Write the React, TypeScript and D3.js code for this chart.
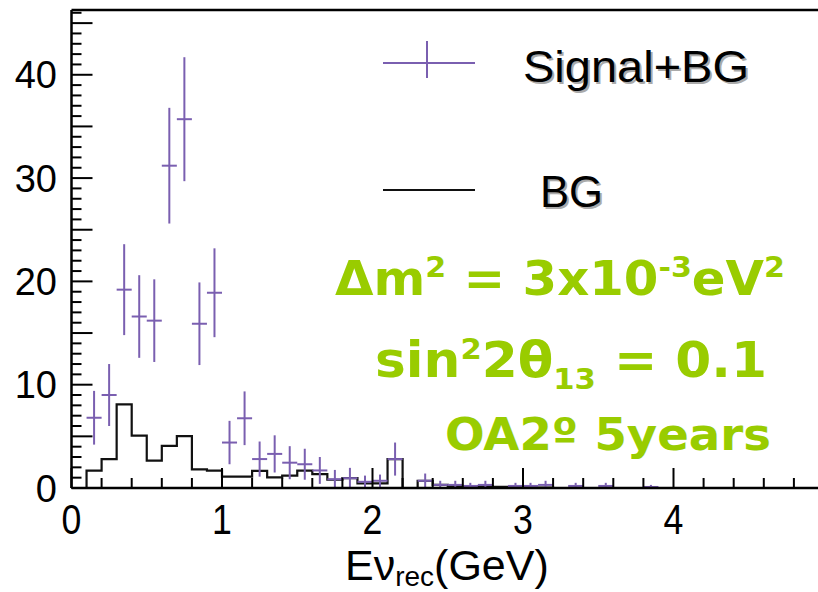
import React from 'react';
import * as d3 from 'd3';

// 0.1 GeV bins from 0 to 5 GeV
const binWidth = 0.1;
const signalBG = [
  0, 6.8, 9.0, 19.2, 16.6, 16.2, 31.2, 35.7, 15.9, 18.9,
  4.4, 6.75, 2.8, 3.3, 2.45, 2.3, 1.7, 0.85, 0.95, 0.6,
  0.7, 2.8, 0, 0.7, 0.3, 0.3, 0.2, 0.3, 0, 0.2,
  0.2, 0.3, 0, 0.2, 0, 0.2, 0, 0, 0.1, 0,
  0, 0, 0, 0, 0, 0, 0, 0, 0, 0,
];
const signalErr = [
  0, 2.6, 3.0, 4.4, 4.0, 4.0, 5.6, 6.0, 4.0, 4.3,
  2.1, 2.6, 1.7, 1.8, 1.6, 1.5, 1.3, 0.9, 1.0, 0.6,
  0.6, 1.6, 0, 0.7, 0.4, 0.4, 0.3, 0.4, 0, 0.3,
  0.3, 0.4, 0, 0.3, 0, 0.3, 0, 0, 0.2, 0,
  0, 0, 0, 0, 0, 0, 0, 0, 0, 0,
];
const background = [
  0, 1.68, 2.8, 8.1, 5.07, 2.65, 4.07, 5.03, 1.8, 1.68,
  1.1, 1.1, 1.65, 1.03, 1.2, 1.68, 1.35, 0.8, 0.95, 0.45,
  0.45, 2.8, 0, 0.7, 0.3, 0.2, 0.15, 0.15, 0.1, 0.1,
  0.05, 0.05, 0, 0, 0, 0, 0, 0, 0, 0,
  0, 0, 0, 0, 0, 0, 0, 0, 0, 0,
];
const xTickLabels = [0, 1, 2, 3, 4];
const yTickLabels = [0, 10, 20, 30, 40];
const legendItems = ['Signal+BG', 'BG'];

const W = 818;
const H = 592;
const purple = '#7a5fb0';
const green = '#99cc00';

export default function App() {
  const x = d3.scaleLinear().domain([0, 5]).range([71.5, 824]);
  const y = d3.scaleLinear().domain([0, 46.27]).range([488, 10]);

  const bgPts: [number, number][] = background.map((v, i) => [i * binWidth, v]);
  bgPts.push([background.length * binWidth, background[background.length - 1]]);
  const step = d3
    .line<[number, number]>()
    .x(d => x(d[0]))
    .y(d => y(d[1]))
    .curve(d3.curveStepAfter);

  const yTicks = d3.range(0, 47, 1);
  const xTicks = d3.range(0, 26, 1).map(k => k * 0.2);

  const left = x(0);
  const bottom = y(0);

  return (
    <svg width={W} height={H} style={{ position: 'absolute', left: 0, top: 0, background: '#fff' }}>
      {/* histogram of background */}
      <path d={step(bgPts) || ''} fill="none" stroke="#111" strokeWidth={2.2} />

      {/* signal + background with error bars */}
      <g stroke={purple} strokeWidth={2}>
        {signalBG.map((v, i) => {
          if (v <= 0) return null;
          const cx = x((i + 0.5) * binWidth);
          const lo = Math.max(0, v - signalErr[i]);
          return (
            <g key={i}>
              <line x1={x(i * binWidth)} x2={x((i + 1) * binWidth)} y1={y(v)} y2={y(v)} />
              <line x1={cx} x2={cx} y1={y(v + signalErr[i])} y2={y(lo)} />
            </g>
          );
        })}
      </g>

      {/* frame and ticks */}
      <g stroke="#000">
        <line x1={left} x2={W} y1={y(46.27)} y2={y(46.27)} strokeWidth={2.5} />
        <line x1={left} x2={left} y1={y(46.27)} y2={bottom} strokeWidth={2.5} />
        <line x1={left} x2={W} y1={bottom} y2={bottom} strokeWidth={2.5} />
        {yTicks.map(t => (
          <line key={'y' + t} x1={left} x2={left + (t % 5 === 0 ? 21 : 10)} y1={y(t)} y2={y(t)} strokeWidth={2} />
        ))}
        {xTicks.map((t, k) => (
          <line key={'x' + k} x1={x(t)} x2={x(t)} y1={bottom} y2={bottom - (k % 5 === 0 ? 20 : 10)} strokeWidth={2} />
        ))}
      </g>

      {/* tick labels */}
      <g fontFamily="'Liberation Sans', Arial, sans-serif" fill="#000">
        {yTickLabels.map(t => (
          <text key={'yl' + t} x={57} y={y(t)} dy="0.36em" textAnchor="end" fontSize={38}>
            {t}
          </text>
        ))}
        {xTickLabels.map(t => (
          <text key={'xl' + t} transform={`translate(${x(t)},534) scale(0.85,1)`} textAnchor="middle" fontSize={42}>
            {t}
          </text>
        ))}
        <text x={345} y={580} fontSize={43}>
          Eν<tspan fontSize={28} dy={6}>rec</tspan>
          <tspan dy={-6}>(GeV)</tspan>
        </text>
      </g>

      {/* legend */}
      <g>
        <line x1={383} x2={475} y1={63} y2={63} stroke={purple} strokeWidth={2} />
        <line x1={427} x2={427} y1={41} y2={78} stroke={purple} strokeWidth={2} />
        <line x1={383} x2={475} y1={190} y2={190} stroke="#111" strokeWidth={2.2} />
        <g fontFamily="'Liberation Sans', Arial, sans-serif" fontSize={44}>
          <text x={525} y={84} fill="#aaa" textLength={226} lengthAdjust="spacingAndGlyphs">{legendItems[0]}</text>
          <text x={523} y={82} fill="#000" textLength={226} lengthAdjust="spacingAndGlyphs">{legendItems[0]}</text>
          <text x={542} y={209} fill="#aaa" textLength={63} lengthAdjust="spacingAndGlyphs">{legendItems[1]}</text>
          <text x={540} y={207} fill="#000" textLength={63} lengthAdjust="spacingAndGlyphs">{legendItems[1]}</text>
        </g>
      </g>

      {/* parameters */}
      <g fontFamily="'DejaVu Sans', sans-serif" fontWeight="bold" fill={green}>
        <text x={335} y={295} fontSize={48} textLength={450} lengthAdjust="spacingAndGlyphs">
          Δm<tspan fontSize={29} dy={-18}>2</tspan>
          <tspan dy={18}> = 3x10</tspan>
          <tspan fontSize={29} dy={-18}>-3</tspan>
          <tspan dy={18}>eV</tspan>
          <tspan fontSize={29} dy={-18}>2</tspan>
        </text>
        <text x={375} y={377} fontSize={49} textLength={392} lengthAdjust="spacingAndGlyphs">
          sin<tspan fontSize={29} dy={-18}>2</tspan>
          <tspan dy={18}>2θ</tspan>
          <tspan fontSize={29} dy={12}>13</tspan>
          <tspan dy={-12}> = 0.1</tspan>
        </text>
        <text x={445} y={450} fontSize={45} textLength={326} lengthAdjust="spacingAndGlyphs">
          OA2º 5years
        </text>
      </g>
    </svg>
  );
}
